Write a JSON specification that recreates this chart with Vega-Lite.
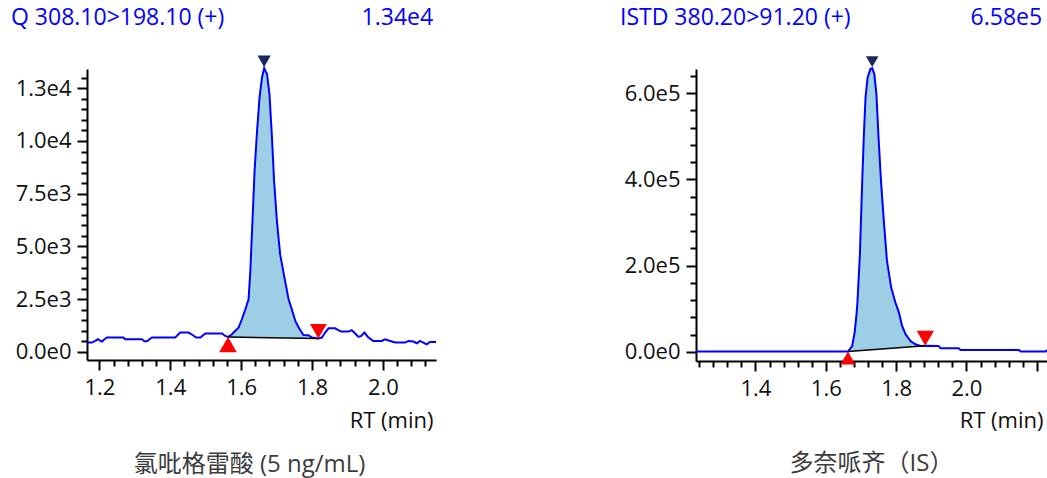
{
  "$schema": "https://vega.github.io/schema/vega-lite/v6.json",
  "background": "white",
  "padding": {"left": 10, "top": 6, "right": 0, "bottom": 5},
  "bounds": "flush",
  "spacing": 260,
  "config": {"view": {"stroke": null}, "font": "Open Sans", "axis": {"grid": false, "domainColor": "black", "tickColor": "black", "labelColor": "#111111", "titleColor": "#111111"}},
  "datasets": {
    "q_trace": [
      {"rt":1.166,"intensity":446},{"rt":1.179,"intensity":446},{"rt":1.188,"intensity":522},{"rt":1.196,"intensity":602},{"rt":1.203,"intensity":522},{"rt":1.207,"intensity":493},{"rt":1.212,"intensity":569},{"rt":1.221,"intensity":683},{"rt":1.268,"intensity":683},{"rt":1.273,"intensity":602},{"rt":1.320,"intensity":602},{"rt":1.327,"intensity":508},{"rt":1.334,"intensity":508},{"rt":1.348,"intensity":683},{"rt":1.414,"intensity":683},{"rt":1.428,"intensity":920},{"rt":1.452,"intensity":920},{"rt":1.463,"intensity":806},{"rt":1.473,"intensity":683},{"rt":1.485,"intensity":683},{"rt":1.499,"intensity":873},{"rt":1.546,"intensity":873},{"rt":1.555,"intensity":759},
      {"rt":1.563,"intensity":712},{"rt":1.574,"intensity":840},{"rt":1.593,"intensity":1158},{"rt":1.602,"intensity":1551},{"rt":1.612,"intensity":2026},{"rt":1.621,"intensity":2500},{"rt":1.626,"intensity":3843},{"rt":1.632,"intensity":6215},{"rt":1.638,"intensity":8587},{"rt":1.645,"intensity":10484},{"rt":1.652,"intensity":12069},{"rt":1.659,"intensity":13017},{"rt":1.665,"intensity":13450},{"rt":1.673,"intensity":13174},{"rt":1.680,"intensity":12225},{"rt":1.687,"intensity":10171},{"rt":1.693,"intensity":8112},{"rt":1.701,"intensity":6215},{"rt":1.710,"intensity":4635},{"rt":1.724,"intensity":3368},{"rt":1.734,"intensity":2500},{"rt":1.743,"intensity":2026},{"rt":1.753,"intensity":1471},{"rt":1.762,"intensity":1172},{"rt":1.771,"intensity":935},{"rt":1.776,"intensity":806},{"rt":1.790,"intensity":792},{"rt":1.800,"intensity":683},{"rt":1.818,"intensity":636},
      {"rt":1.828,"intensity":683},{"rt":1.837,"intensity":920},{"rt":1.847,"intensity":1124},{"rt":1.865,"intensity":1124},{"rt":1.882,"intensity":968},{"rt":1.903,"intensity":968},{"rt":1.912,"intensity":1029},{"rt":1.922,"intensity":873},{"rt":1.931,"intensity":712},{"rt":1.939,"intensity":759},{"rt":1.948,"intensity":920},{"rt":1.958,"intensity":712},{"rt":1.973,"intensity":522},{"rt":1.997,"intensity":522},{"rt":2.006,"intensity":602},{"rt":2.021,"intensity":522},{"rt":2.035,"intensity":446},{"rt":2.063,"intensity":446},{"rt":2.072,"intensity":522},{"rt":2.086,"intensity":493},{"rt":2.096,"intensity":413},{"rt":2.105,"intensity":522},{"rt":2.114,"intensity":446},{"rt":2.124,"intensity":365},{"rt":2.133,"intensity":474},{"rt":2.150,"intensity":474}
    ],
    "q_peak": [
      {"rt":1.563,"intensity":712,"base":712},{"rt":1.574,"intensity":840,"base":709},{"rt":1.593,"intensity":1158,"base":703},{"rt":1.602,"intensity":1551,"base":700},{"rt":1.612,"intensity":2026,"base":697},{"rt":1.621,"intensity":2500,"base":695},{"rt":1.626,"intensity":3843,"base":693},{"rt":1.632,"intensity":6215,"base":691},{"rt":1.638,"intensity":8587,"base":690},{"rt":1.645,"intensity":10484,"base":688},{"rt":1.652,"intensity":12069,"base":685},{"rt":1.659,"intensity":13017,"base":683},{"rt":1.665,"intensity":13450,"base":682},{"rt":1.673,"intensity":13174,"base":679},{"rt":1.680,"intensity":12225,"base":677},{"rt":1.687,"intensity":10171,"base":675},{"rt":1.693,"intensity":8112,"base":673},{"rt":1.701,"intensity":6215,"base":671},{"rt":1.710,"intensity":4635,"base":668},{"rt":1.724,"intensity":3368,"base":664},{"rt":1.734,"intensity":2500,"base":661},{"rt":1.743,"intensity":2026,"base":658},{"rt":1.753,"intensity":1471,"base":655},{"rt":1.762,"intensity":1172,"base":653},{"rt":1.771,"intensity":935,"base":650},{"rt":1.776,"intensity":806,"base":649},{"rt":1.790,"intensity":792,"base":644},{"rt":1.800,"intensity":683,"base":641},{"rt":1.818,"intensity":636,"base":636}
    ],
    "q_marks": [
      {"kind":"start","rt":1.563,"intensity":712},
      {"kind":"end","rt":1.818,"intensity":636},
      {"kind":"apex","rt":1.665,"intensity":13450}
    ],
    "i_trace": [
      {"rt":1.231,"intensity":900},{"rt":1.663,"intensity":900},{"rt":1.675,"intensity":13920},{"rt":1.682,"intensity":45000},{"rt":1.687,"intensity":83520},{"rt":1.690,"intensity":115000},{"rt":1.697,"intensity":226664},{"rt":1.703,"intensity":381408},{"rt":1.708,"intensity":497408},{"rt":1.713,"intensity":590208},{"rt":1.719,"intensity":636608},{"rt":1.727,"intensity":655864},{"rt":1.732,"intensity":658000},{"rt":1.738,"intensity":644264},{"rt":1.744,"intensity":597864},{"rt":1.750,"intensity":497408},{"rt":1.757,"intensity":396720},{"rt":1.765,"intensity":303920},{"rt":1.774,"intensity":211120},{"rt":1.786,"intensity":149408},{"rt":1.798,"intensity":114608},{"rt":1.808,"intensity":91408},{"rt":1.817,"intensity":60320},{"rt":1.827,"intensity":41064},{"rt":1.841,"intensity":25520},{"rt":1.855,"intensity":17864},{"rt":1.869,"intensity":13920},{"rt":1.883,"intensity":14384},
      {"rt":1.921,"intensity":13920},{"rt":1.926,"intensity":8584},{"rt":1.978,"intensity":8584},{"rt":1.983,"intensity":4640},{"rt":2.149,"intensity":4640},{"rt":2.154,"intensity":928},{"rt":2.225,"intensity":928},{"rt":2.229,"intensity":4640}
    ],
    "i_peak": [
      {"rt":1.663,"intensity":900,"base":900},{"rt":1.675,"intensity":13920,"base":1635},{"rt":1.682,"intensity":45000,"base":2065},{"rt":1.687,"intensity":83520,"base":2371},{"rt":1.690,"intensity":115000,"base":2555},{"rt":1.697,"intensity":226664,"base":2984},{"rt":1.703,"intensity":381408,"base":3352},{"rt":1.708,"intensity":497408,"base":3658},{"rt":1.713,"intensity":590208,"base":3965},{"rt":1.719,"intensity":636608,"base":4332},{"rt":1.727,"intensity":655864,"base":4823},{"rt":1.732,"intensity":658000,"base":5129},{"rt":1.738,"intensity":644264,"base":5497},{"rt":1.744,"intensity":597864,"base":5865},{"rt":1.750,"intensity":497408,"base":6232},{"rt":1.757,"intensity":396720,"base":6661},{"rt":1.765,"intensity":303920,"base":7152},{"rt":1.774,"intensity":211120,"base":7803},{"rt":1.786,"intensity":149408,"base":8539},{"rt":1.798,"intensity":114608,"base":9274},{"rt":1.808,"intensity":91408,"base":9887},{"rt":1.817,"intensity":60320,"base":10439},{"rt":1.827,"intensity":41064,"base":11052},{"rt":1.841,"intensity":25520,"base":11910},{"rt":1.855,"intensity":17864,"base":12768},{"rt":1.869,"intensity":13920,"base":13626},{"rt":1.883,"intensity":14384,"base":14384}
    ],
    "i_marks": [
      {"kind":"start","rt":1.663,"intensity":900},
      {"kind":"end","rt":1.883,"intensity":14384},
      {"kind":"apex","rt":1.732,"intensity":658000}
    ]
  },
  "hconcat": [
    {
      "width": 349, "height": 291,
      "title": {"text": "氯吡格雷酸 (5 ng/mL)", "orient": "bottom", "anchor": "middle", "frame": "group", "dx": -12, "offset": 21, "font": "'Open Sans', 'Noto Sans CJK SC'", "fontSize": 24, "fontWeight": "normal", "color": "#3c3c3c"},
      "resolve": {"axis": {"x": "independent", "y": "independent"}},
      "layer": [
        {"data": {"name": "q_peak"}, "mark": {"type": "area", "color": "#9ccfe6", "opacity": 1},
         "encoding": {
           "x": {"field": "rt", "type": "quantitative", "scale": {"domain": [1.165, 2.15], "nice": false, "zero": false},
                 "axis": {"orient": "bottom", "values": [1.24,1.28,1.32,1.36,1.44,1.48,1.52,1.56,1.64,1.68,1.72,1.76,1.84,1.88,1.92,1.96,2.04,2.08,2.12], "labels": false, "domain": false, "tickSize": 6, "tickWidth": 2, "title": null}},
           "y": {"field": "intensity", "type": "quantitative", "scale": {"domain": [-380, 13410], "nice": false, "zero": false},
                 "axis": {"orient": "left", "values": [500,1000,1500,2000,3000,3500,4000,4500,5500,6000,6500,7000,8000,8500,9000,9500,10500,11000,11500,12000,13000], "labels": false, "domain": false, "tickSize": 6, "tickWidth": 2, "title": null}},
           "y2": {"field": "base"}
         }},
        {"data": {"name": "q_trace"}, "mark": {"type": "line", "color": "#0000ff", "strokeWidth": 2},
         "encoding": {
           "x": {"field": "rt", "type": "quantitative", "scale": {"domain": [1.165, 2.15], "nice": false, "zero": false},
                 "axis": {"orient": "bottom", "values": [1.2,1.4,1.6,1.8,2.0], "format": ".1f", "tickSize": 10, "tickWidth": 2, "domainWidth": 2, "labelFontSize": 22, "labelPadding": 7, "labelFlush": false, "title": "RT (min)", "titleFontSize": 22, "titleFontWeight": "normal", "titleAnchor": "end", "titleAlign": "right", "titleBaseline": "alphabetic", "titleX": 346, "titleY": 67.6}},
           "y": {"field": "intensity", "type": "quantitative", "scale": {"domain": [-380, 13410], "nice": false, "zero": false},
                 "axis": {"orient": "left", "values": [0,2500,5000,7500,10000,12500], "labelExpr": "replace(format(datum.value, '.1e'), '+', '')", "tickSize": 10, "tickWidth": 2, "domainWidth": 2, "labelFontSize": 22, "labelPadding": 6, "title": null}}
         }},
        {"data": {"name": "q_marks"}, "transform": [{"filter": "datum.kind != 'apex'"}], "mark": {"type": "line", "color": "black", "strokeWidth": 1.5},
         "encoding": {
           "x": {"field": "rt", "type": "quantitative", "scale": {"domain": [1.165, 2.15], "nice": false, "zero": false},
                 "axis": {"orient": "top", "values": [2.149], "domain": false, "ticks": false, "tickSize": 0, "labelExpr": "'1.34e4'", "labelAlign": "right", "labelBaseline": "alphabetic", "labelPadding": 44.3, "labelOffset": -3, "labelFlush": false, "labelOverlap": false, "labelBound": false, "labelFontSize": 23, "labelColor": "#0000ff", "title": "Q 308.10>198.10 (+)", "titleAnchor": "start", "titleAlign": "left", "titleBaseline": "alphabetic", "titleX": -76.5, "titleY": -44.3, "titleFontSize": 23, "titleFontWeight": "normal", "titleColor": "#0000ff"}},
           "y": {"field": "intensity", "type": "quantitative", "scale": {"domain": [-380, 13410], "nice": false, "zero": false}, "axis": null}
         }},
        {"data": {"name": "q_marks"}, "transform": [{"filter": "datum.kind == 'start'"}], "mark": {"type": "point", "shape": "triangle-up", "filled": true, "color": "#ff0000", "opacity": 1, "size": 310, "yOffset": 7.6},
         "encoding": {
           "x": {"field": "rt", "type": "quantitative", "axis": null},
           "y": {"field": "intensity", "type": "quantitative", "axis": null}
         }},
        {"data": {"name": "q_marks"}, "transform": [{"filter": "datum.kind == 'end'"}], "mark": {"type": "point", "shape": "triangle-down", "filled": true, "color": "#ff0000", "opacity": 1, "size": 280, "yOffset": -7.2},
         "encoding": {
           "x": {"field": "rt", "type": "quantitative", "axis": null},
           "y": {"field": "intensity", "type": "quantitative", "axis": null}
         }},
        {"data": {"name": "q_marks"}, "transform": [{"filter": "datum.kind == 'apex'"}], "mark": {"type": "point", "shape": "triangle-down", "filled": true, "color": "#17295c", "opacity": 1, "size": 175, "yOffset": -7},
         "encoding": {
           "x": {"field": "rt", "type": "quantitative", "axis": null},
           "y": {"field": "intensity", "type": "quantitative", "axis": null}
         }}
      ]
    },
    {
      "width": 351, "height": 292,
      "title": {"text": "多奈哌齐（IS）", "orient": "bottom", "anchor": "middle", "frame": "group", "dx": 0, "offset": 20, "font": "'Open Sans', 'Noto Sans CJK SC'", "fontSize": 24, "fontWeight": "normal", "color": "#3c3c3c"},
      "resolve": {"axis": {"x": "independent", "y": "independent"}},
      "layer": [
        {"data": {"name": "i_peak"}, "mark": {"type": "area", "color": "#9ccfe6", "opacity": 1},
         "encoding": {
           "x": {"field": "rt", "type": "quantitative", "scale": {"domain": [1.231, 2.229], "nice": false, "zero": false},
                 "axis": {"orient": "bottom", "values": [1.24,1.28,1.32,1.36,1.44,1.48,1.52,1.56,1.64,1.68,1.72,1.76,1.84,1.88,1.92,1.96,2.04,2.08,2.12,2.16], "labels": false, "domain": false, "tickSize": 6, "tickWidth": 2, "title": null}},
           "y": {"field": "intensity", "type": "quantitative", "scale": {"domain": [-20900, 656000], "nice": false, "zero": false},
                 "axis": {"orient": "left", "values": [40000,80000,120000,160000,240000,280000,320000,360000,440000,480000,520000,560000,640000], "labels": false, "domain": false, "tickSize": 6, "tickWidth": 2, "title": null}},
           "y2": {"field": "base"}
         }},
        {"data": {"name": "i_trace"}, "mark": {"type": "line", "color": "#0000ff", "strokeWidth": 2},
         "encoding": {
           "x": {"field": "rt", "type": "quantitative", "scale": {"domain": [1.231, 2.229], "nice": false, "zero": false},
                 "axis": {"orient": "bottom", "values": [1.4,1.6,1.8,2.0,2.2], "labelExpr": "datum.value > 2.1 ? '' : format(datum.value, '.1f')", "tickSize": 10, "tickWidth": 2, "domainWidth": 2, "labelFontSize": 22, "labelPadding": 7, "labelFlush": false, "title": "RT (min)", "titleFontSize": 22, "titleFontWeight": "normal", "titleAnchor": "end", "titleAlign": "right", "titleBaseline": "alphabetic", "titleX": 347, "titleY": 66.6}},
           "y": {"field": "intensity", "type": "quantitative", "scale": {"domain": [-20900, 656000], "nice": false, "zero": false},
                 "axis": {"orient": "left", "values": [0,200000,400000,600000], "labelExpr": "replace(format(datum.value, '.1e'), '+', '')", "tickSize": 10, "tickWidth": 2, "domainWidth": 2, "labelFontSize": 22, "labelPadding": 6, "title": null}}
         }},
        {"data": {"name": "i_marks"}, "transform": [{"filter": "datum.kind != 'apex'"}], "mark": {"type": "line", "color": "black", "strokeWidth": 1.5},
         "encoding": {
           "x": {"field": "rt", "type": "quantitative", "scale": {"domain": [1.231, 2.229], "nice": false, "zero": false},
                 "axis": {"orient": "top", "values": [2.228], "domain": false, "ticks": false, "tickSize": 0, "labelExpr": "'6.58e5'", "labelAlign": "right", "labelBaseline": "alphabetic", "labelPadding": 44.3, "labelOffset": -5, "labelFlush": false, "labelOverlap": false, "labelBound": false, "labelFontSize": 23, "labelColor": "#0000ff", "title": "ISTD 380.20>91.20 (+)", "titleAnchor": "start", "titleAlign": "left", "titleBaseline": "alphabetic", "titleX": -76.5, "titleY": -44.3, "titleFontSize": 23, "titleFontWeight": "normal", "titleColor": "#0000ff"}},
           "y": {"field": "intensity", "type": "quantitative", "scale": {"domain": [-20900, 656000], "nice": false, "zero": false}, "axis": null}
         }},
        {"data": {"name": "i_marks"}, "transform": [{"filter": "datum.kind == 'start'"}], "mark": {"type": "point", "shape": "triangle-up", "filled": true, "color": "#ff0000", "opacity": 1, "size": 225, "yOffset": 6.5},
         "encoding": {
           "x": {"field": "rt", "type": "quantitative", "axis": null},
           "y": {"field": "intensity", "type": "quantitative", "axis": null}
         }},
        {"data": {"name": "i_marks"}, "transform": [{"filter": "datum.kind == 'end'"}], "mark": {"type": "point", "shape": "triangle-down", "filled": true, "color": "#ff0000", "opacity": 1, "size": 300, "yOffset": -7.5},
         "encoding": {
           "x": {"field": "rt", "type": "quantitative", "axis": null},
           "y": {"field": "intensity", "type": "quantitative", "axis": null}
         }},
        {"data": {"name": "i_marks"}, "transform": [{"filter": "datum.kind == 'apex'"}], "mark": {"type": "point", "shape": "triangle-down", "filled": true, "color": "#17295c", "opacity": 1, "size": 160, "yOffset": -6.5},
         "encoding": {
           "x": {"field": "rt", "type": "quantitative", "axis": null},
           "y": {"field": "intensity", "type": "quantitative", "axis": null}
         }}
      ]
    }
  ]
}
